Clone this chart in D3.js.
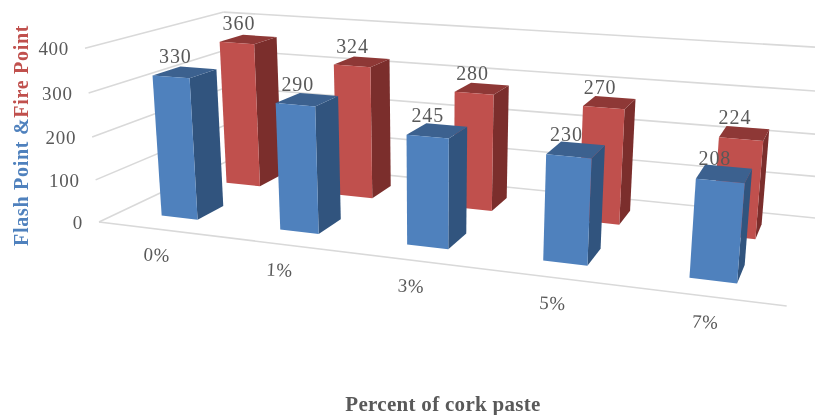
<!DOCTYPE html>
<html>
<head>
<meta charset="utf-8">
<script src="https://cdn.jsdelivr.net/npm/d3@7"></script>
<style>
  html, body { margin: 0; padding: 0; background: #fff; }
  svg { display: block; filter: blur(0.4px); }
  text { font-family: "Liberation Serif", serif; }
</style>
</head>
<body>
<svg id="chart" width="815" height="415"></svg>
<script>
var categories = ["0%", "1%", "3%", "5%", "7%"];
var seriesNames = ["Fire Point", "Flash Point"];
var flashPoint = [330, 290, 245, 230, 208];
var firePoint = [360, 324, 280, 270, 224];
var yTicks = [0, 100, 200, 300, 400];

var svg = d3.select("#chart");

//Camera: vanishing points of the three box directions
var origin = [99, 222];
var vpX = [-3356, -200], vpY = [925, -170], vpZ = [430, 4330];
var kX = -0.166, kY = 0.19, kZ = -0.0406;

var project = function (u, v, h) {
    var w = 1 + kX * u + kY * v + kZ * h;
    return [
        (kX * u * vpX[0] + kY * v * vpY[0] + kZ * h * vpZ[0] + origin[0]) / w,
        (kX * u * vpX[1] + kY * v * vpY[1] + kZ * h * vpZ[1] + origin[1]) / w
    ];
};

var xBand = d3.scaleBand().domain(categories).range([0, 1]).paddingInner(0.69).paddingOuter(0.345);
var depthBand = d3.scaleBand().domain(["Flash Point", "Fire Point"]).range([0, 1]).paddingInner(0.61).paddingOuter(0.31);
var zScale = d3.scaleLinear().domain([0, 400]).range([0, 1]);
var line = d3.line();

//Walls and floor
var gridSegs = [];
yTicks.forEach(function (t) {
    var h = zScale(t);
    gridSegs.push([project(0, 0, h), project(0, 1, h)]);
    gridSegs.push([project(0, 1, h), project(1.02, 1, h)]);
});
gridSegs.push([project(0, 0, 0), project(1, 0, 0)]);

svg.append("g").selectAll("path").data(gridSegs).join("path")
    .attr("d", line)
    .attr("fill", "none")
    .attr("stroke", "#d9d9d9")
    .attr("stroke-width", 1.6);

var barFaces = function (cat, name, value) {
    var x0 = xBand(cat), x1 = x0 + xBand.bandwidth();
    var y0 = depthBand(name), y1 = y0 + depthBand.bandwidth();
    var h = zScale(value);
    return {
        front: [project(x0, y0, 0), project(x1, y0, 0), project(x1, y0, h), project(x0, y0, h)],
        side: [project(x1, y0, 0), project(x1, y1, 0), project(x1, y1, h), project(x1, y0, h)],
        top: [project(x0, y0, h), project(x1, y0, h), project(x1, y1, h), project(x0, y1, h)]
    };
};

var palette = {
    "Flash Point": {front: "#4f81bd", side: "#31547e", top: "#3c618f"},
    "Fire Point": {front: "#c0504d", side: "#7b2e2c", top: "#8e3836"}
};

var bars = [];
var labels = [];
seriesNames.forEach(function (name) {
    var values = name === "Flash Point" ? flashPoint : firePoint;
    categories.forEach(function (cat, i) {
        bars.push({faces: barFaces(cat, name, values[i]), colors: palette[name]});
        var cx = xBand(cat) + xBand.bandwidth() / 2;
        var cy = depthBand(name) + depthBand.bandwidth() / 2;
        labels.push({value: values[i], pos: project(cx, cy, zScale(values[i]))});
    });
});

var barG = svg.append("g").selectAll("g").data(bars).join("g");
["side", "top", "front"].forEach(function (face) {
    barG.append("path")
        .attr("d", function (d) { return line(d.faces[face]) + "Z"; })
        .attr("fill", function (d) { return d.colors[face]; });
});

svg.append("g").selectAll("text").data(labels).join("text")
    .attr("x", function (d) { return d.pos[0] - 9.5; })
    .attr("y", function (d) { return d.pos[1] - 9; })
    .attr("text-anchor", "middle")
    .attr("font-size", 20)
    .attr("letter-spacing", 0.9)
    .attr("fill", "#595959")
    .text(function (d) { return d.value; });

//Value axis labels
svg.append("g").selectAll("text").data(yTicks).join("text")
    .attr("x", function (d) { return project(0, 0, zScale(d))[0] - 16; })
    .attr("y", function (d) { return project(0, 0, zScale(d))[1] + 7; })
    .attr("text-anchor", "end")
    .attr("font-size", 19)
    .attr("letter-spacing", 0.7)
    .attr("fill", "#595959")
    .text(function (d) { return d; });

//Category labels, slightly tilted like the floor
svg.append("g").selectAll("text").data(categories).join("text")
    .attr("transform", function (d) {
        var p = project(xBand(d) + xBand.bandwidth() / 2, 0, 0);
        return "translate(" + (p[0] - 1) + "," + (p[1] + 32) + ") rotate(3)";
    })
    .attr("text-anchor", "middle")
    .attr("font-size", 19)
    .attr("letter-spacing", 0.5)
    .attr("fill", "#595959")
    .text(function (d) { return d; });

//Axis titles
var yTitle = svg.append("text")
    .attr("transform", "translate(28,246) rotate(-90)")
    .attr("font-size", 20)
    .attr("font-weight", "bold")
    .attr("letter-spacing", 0.72);
yTitle.append("tspan").attr("fill", "#4f81bd").text("Flash Point &");
yTitle.append("tspan").attr("fill", "#c0504d").text("Fire Point");

svg.append("text")
    .attr("x", 443)
    .attr("y", 411)
    .attr("text-anchor", "middle")
    .attr("font-size", 21)
    .attr("font-weight", "bold")
    .attr("letter-spacing", 0.3)
    .attr("fill", "#595959")
    .text("Percent of cork paste");
</script>
</body>
</html>
